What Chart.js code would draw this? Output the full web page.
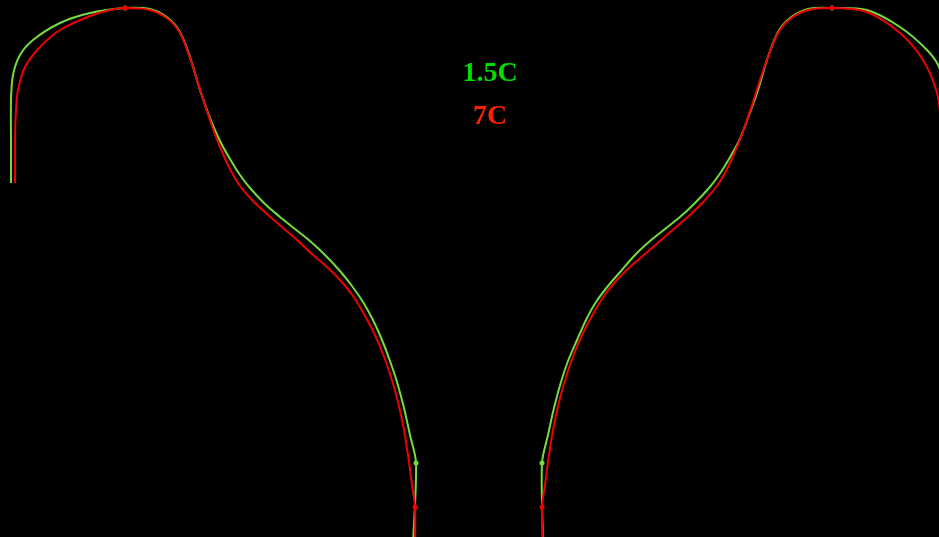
<!DOCTYPE html>
<html>
<head>
<meta charset="utf-8">
<title>Profile 1.5C / 7C</title>
<script src="https://cdn.jsdelivr.net/npm/chart.js@4/dist/chart.umd.min.js"></script>
<style>
    html, body { margin: 0; padding: 0; background: #000; }
    #wrap { position: relative; width: 939px; height: 537px; background: #000; }
</style>
</head>
<body>
<div id="wrap"><canvas id="profileChart"></canvas></div>
<script>
// profile outlines, x = radius from the centre line, y = height (cm)
const greenLeft = [
    [-46.8, 35.4], [-46.8, 39.7], [-46.8, 43.7], [-46.6, 46.2], [-45.9, 48.2],
    [-44.6, 49.7], [-41.9, 51.4], [-38.9, 52.4], [-35.4, 52.9], [-32.9, 52.8],
    [-31.1, 51.9], [-29.9, 50.5], [-28.9, 48.0], [-27.9, 44.7], [-26.9, 41.9],
    [-25.9, 39.6], [-24.9, 37.8], [-23.9, 36.2], [-22.9, 34.9], [-21.4, 33.3],
    [-19.9, 32.0], [-18.4, 30.8], [-16.9, 29.6], [-15.4, 28.2], [-13.9, 26.6],
    [-12.7, 25.1], [-11.6, 23.5], [-10.6, 21.7], [-9.7, 19.7], [-8.9, 17.6],
    [-8.2, 15.5], [-7.5, 12.9], [-6.9, 10.2], [-6.3, 7.4], [-6.6, -0.8],
];
const greenRight = [
    [6.4, -0.8], [6.3, 7.4], [6.9, 10.2], [7.5, 12.9], [8.2, 15.5],
    [8.9, 17.6], [9.8, 19.7], [10.7, 21.7], [11.7, 23.5], [12.9, 25.1],
    [14.2, 26.6], [15.6, 28.2], [17.1, 29.6], [18.6, 30.8], [20.1, 32.0],
    [21.5, 33.3], [23.0, 34.9], [24.0, 36.2], [25.0, 37.8], [26.0, 39.6],
    [26.9, 41.9], [27.9, 44.7], [28.9, 48.0], [29.9, 50.5], [31.1, 51.9],
    [32.9, 52.8], [35.3, 52.9], [38.8, 52.7], [42.1, 51.0], [44.8, 48.7],
    [46.0, 47.0], [46.8, 43.7], [46.9, 39.7],
];
const redLeft = [
    [-46.4, 35.4], [-46.4, 39.7], [-46.3, 42.7], [-46.1, 44.7], [-45.4, 47.0],
    [-43.9, 49.0], [-41.9, 50.7], [-38.9, 52.1], [-36.9, 52.7], [-35.4, 52.9],
    [-32.9, 52.7], [-31.1, 51.8], [-29.9, 50.4], [-28.9, 47.9], [-28.2, 45.7],
    [-27.5, 43.5], [-26.7, 41.1], [-25.9, 39.0], [-24.9, 36.8], [-23.9, 35.1],
    [-22.6, 33.6], [-21.2, 32.3], [-19.7, 31.0], [-18.2, 29.7], [-16.7, 28.3],
    [-15.2, 27.0], [-13.8, 25.6], [-12.6, 24.1], [-11.5, 22.3], [-10.5, 20.4],
    [-9.6, 18.3], [-8.8, 16.0], [-8.1, 13.5], [-7.5, 10.7], [-7.0, 7.5],
    [-6.7, 5.2], [-6.4, 3.0], [-6.4, -0.8],
];
const redRight = [
    [6.4, -0.8], [6.3, 3.0], [6.6, 5.2], [6.9, 7.5], [7.4, 10.7],
    [8.0, 13.5], [8.7, 16.0], [9.5, 18.3], [10.4, 20.4], [11.4, 22.3],
    [12.5, 24.1], [13.7, 25.6], [15.1, 27.0], [16.6, 28.3], [18.1, 29.6],
    [19.6, 30.9], [21.1, 32.2], [22.5, 33.6], [23.8, 35.1], [24.8, 36.8],
    [25.8, 39.0], [26.6, 41.1], [27.4, 43.5], [28.1, 45.7], [28.9, 48.0],
    [29.9, 50.4], [31.1, 51.8], [32.9, 52.7], [35.3, 52.9], [38.8, 52.5],
    [42.1, 50.4], [44.4, 47.7], [45.8, 44.4], [46.3, 40.7],
];

// which points get a dot (peak and neck)
const greenLeftDots = [8, 33];
const greenRightDots = [1, 26];
const redLeftDots = [9, 36];
const redRightDots = [1, 28];

const seriesNames = ["1.5C", "7C"];
const lineColors = ["#74dc3c", "#f00000"];
const labelColors = ["#00e000", "#ff2000"];

function outline(points, dots, color) {
    return {
        data: points.map(p => ({ x: p[0], y: p[1] })),
        showLine: true,
        borderColor: color,
        backgroundColor: color,
        borderWidth: 2,
        tension: 0.3,
        pointRadius: ctx => dots.includes(ctx.dataIndex) ? 2.5 : 0,
        pointBorderWidth: 0,
    };
}

// series names written in the middle, one under the other
const nameLabels = {
    id: "nameLabels",
    afterDraw(chart) {
        const ctx = chart.ctx;
        ctx.save();
        ctx.font = "bold 28px 'Liberation Serif', serif";
        ctx.textAlign = "center";
        ctx.textBaseline = "alphabetic";
        seriesNames.forEach((name, i) => {
            ctx.fillStyle = labelColors[i];
            ctx.fillText(name, 490, 81 + i * 43);
        });
        ctx.restore();
    },
};

const ctx = document.getElementById("profileChart").getContext("2d");

new Chart(ctx, {
    type: "scatter",
    data: {
        datasets: [
            // red first so it sits on top of the green
            outline(redLeft, redLeftDots, lineColors[1]),
            outline(redRight, redRightDots, lineColors[1]),
            outline(greenLeft, greenLeftDots, lineColors[0]),
            outline(greenRight, greenRightDots, lineColors[0]),
        ],
    },
    options: {
        responsive: true,
        maintainAspectRatio: false,
        animation: false,
        layout: { padding: 0 },
        scales: {
            x: { type: "linear", min: -47.9, max: 46.0, display: false },
            y: { type: "linear", min: 0, max: 53.7, display: false },
        },
        plugins: {
            legend: { display: false },
            tooltip: { enabled: false },
        },
    },
    plugins: [nameLabels],
});
</script>
</body>
</html>
